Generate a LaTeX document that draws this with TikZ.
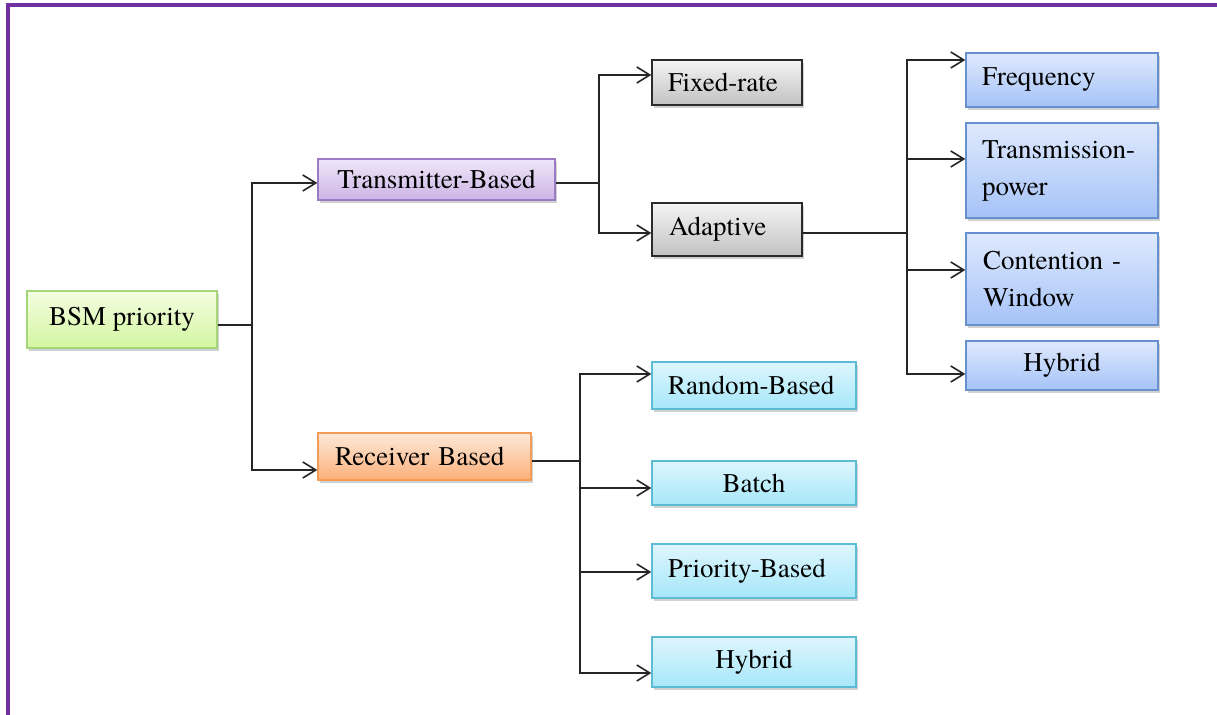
\documentclass[tikz,border=0pt]{standalone}
\usepackage{fontspec}
\setmainfont{texgyretermes}[Extension=.otf, UprightFont=*-regular, BoldFont=*-bold,
  ItalicFont=*-italic, BoldItalicFont=*-bolditalic]
\usetikzlibrary{calc,shadows,arrows.meta}

\definecolor{frame}{HTML}{7030A0}
\definecolor{wire}{HTML}{262626}
\definecolor{grnT}{HTML}{F4FDE2}\definecolor{grnB}{HTML}{D3F6A0}\definecolor{grnD}{HTML}{A6D47A}
\definecolor{purT}{HTML}{F0E6F8}\definecolor{purB}{HTML}{CCB4E6}\definecolor{purD}{HTML}{9B7CC4}
\definecolor{orgT}{HTML}{FDE9D8}\definecolor{orgB}{HTML}{FBB07A}\definecolor{orgD}{HTML}{F39C55}
\definecolor{gryT}{HTML}{F4F4F4}\definecolor{gryB}{HTML}{C2C2C2}\definecolor{gryD}{HTML}{2B2B2B}
\definecolor{bluT}{HTML}{DFE9FD}\definecolor{bluB}{HTML}{A5C3F8}\definecolor{bluD}{HTML}{6690CE}
\definecolor{cyaT}{HTML}{DEF6FD}\definecolor{cyaB}{HTML}{A6E7FA}\definecolor{cyaD}{HTML}{5CBCD4}

\tikzset{
  box/.style={draw, line width=0.7pt, inner ysep=0pt, anchor=center,
    font=\fontsize{13.5}{18.5}\selectfont,
    drop shadow={shadow xshift=1.2pt, shadow yshift=-1.5pt, fill=black, opacity=0.18}},
  ctr/.style 2 args={box, minimum width=#1*0.5pt, minimum height=#2*0.5pt, inner xsep=0pt, align=center},
  lft/.style n args={3}{box, minimum height=#2*0.5pt, inner xsep=#3*0.5pt,
    text width=(#1-2*#3)*0.5pt, align=left},
  green/.style={top color=grnT, bottom color=grnB, draw=grnD},
  purple/.style={top color=purT, bottom color=purB, draw=purD},
  orange/.style={top color=orgT, bottom color=orgB, draw=orgD},
  grey/.style={top color=gryT, bottom color=gryB, draw=gryD},
  blue/.style={top color=bluT, bottom color=bluB, draw=bluD},
  cyan/.style={top color=cyaT, bottom color=cyaB, draw=cyaD},
  wireline/.style={draw=wire, line width=0.8pt},
  arrowline/.style={wireline, -{Straight Barb[length=6.5pt,width=8pt,line width=0.8pt]}},
}

\begin{document}
\begin{tikzpicture}[x=0.5pt, y=-0.5pt]
  \useasboundingbox (0,0) rectangle (1217,715);
  \clip (0,0) rectangle (1217,715);

  % outer frame (top and left edges)
  \draw[frame, line width=2pt] (8,720) -- (8,5) -- (1225,5);

  % root and first level
  \node[ctr={190}{57}, green]  (bsm) at (122,319.5)  {BSM priority};
  \node[ctr={237}{41}, purple] (tb)  at (436.5,179.5) {Transmitter-Based};
  \node[lft={213}{47}{17}, orange] (rb) at (424.5,456.5) {Receiver Based};

  % transmitter-based branch
  \node[lft={150}{45}{16}, grey] (fr) at (727,82.5)  {Fixed-rate};
  \node[lft={150}{53}{17}, grey] (ad) at (727,229.5) {Adaptive};

  % adaptive branch
  \node[lft={192}{54}{16}, blue] (fq)  at (1062,80)    {Frequency};
  \node[lft={192}{95}{16}, blue] (tp)  at (1062,170.5) {Transmission-\\power};
  \node[lft={192}{92}{17}, blue] (cw)  at (1062,279)   {Contention -\\Window};
  \node[ctr={192}{49}, blue]     (hy1) at (1062,365.5) {Hybrid};

  % receiver-based branch
  \node[lft={204}{47}{16}, cyan] (rd)  at (754,385.5) {Random-Based};
  \node[ctr={204}{44}, cyan]     (ba)  at (754,483)   {Batch};
  \node[lft={204}{54}{16}, cyan] (pb)  at (754,571)   {Priority-Based};
  \node[ctr={204}{50}, cyan]     (hy2) at (754,662)   {Hybrid};

  % connectors: root
  \draw[wireline] ($(bsm.east)+(0,5.5)$) -- ++(34,0) coordinate (jL);
  \draw[arrowline] (jL) |- ($(tb.west)+(0,3.5)$);
  \draw[arrowline] (jL) |- ($(rb.west)+(0,13.5)$);

  % connectors: transmitter-based
  \draw[wireline] ($(tb.east)+(0,3.5)$) -- ++(43,0) coordinate (jT);
  \draw[arrowline] (jT) |- ($(fr.west)+(0,-7.5)$);
  \draw[arrowline] (jT) |- ($(ad.west)+(0,3.5)$);

  % connectors: adaptive
  \draw[wireline] ($(ad.east)+(0,3.5)$) -- ++(104,0) coordinate (jA);
  \draw[arrowline] (jA) |- ($(fq.west)+(0,-20)$);
  \draw[arrowline] (jA) |- ($(tp.west)+(0,-11.5)$);
  \draw[arrowline] (jA) |- ($(cw.west)+(0,-9)$);
  \draw[arrowline] (jA) |- ($(hy1.west)+(0,8.5)$);

  % connectors: receiver-based
  \draw[wireline] ($(rb.east)+(0,4.5)$) -- ++(48,0) coordinate (jR);
  \draw[arrowline] (jR) |- ($(rd.west)+(0,-11.5)$);
  \draw[arrowline] (jR) |- ($(ba.west)+(0,5)$);
  \draw[arrowline] (jR) |- ($(pb.west)+(0,1)$);
  \draw[arrowline] (jR) |- ($(hy2.west)+(0,11)$);
\end{tikzpicture}
\end{document}
